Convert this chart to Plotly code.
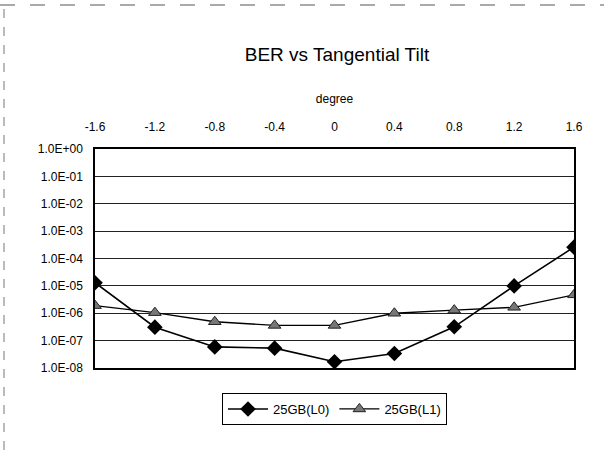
import plotly.graph_objects as go

degrees = [-1.6, -1.2, -0.8, -0.4, 0.0, 0.4, 0.8, 1.2, 1.6]
ber_l0 = [1.3e-5, 3.1e-7, 5.9e-8, 5.3e-8, 1.7e-8, 3.4e-8, 3.2e-7, 1.0e-5, 2.6e-4]
ber_l1 = [1.9e-6, 1.05e-6, 4.9e-7, 3.6e-7, 3.6e-7, 1.0e-6, 1.3e-6, 1.65e-6, 4.7e-6]
x_ticks = [-1.6, -1.2, -0.8, -0.4, 0, 0.4, 0.8, 1.2, 1.6]
x_labels = ["-1.6", "-1.2", "-0.8", "-0.4", "0", "0.4", "0.8", "1.2", "1.6"]
y_ticks = [1e0, 1e-1, 1e-2, 1e-3, 1e-4, 1e-5, 1e-6, 1e-7, 1e-8]
y_labels = ["1.0E+00", "1.0E-01", "1.0E-02", "1.0E-03", "1.0E-04",
            "1.0E-05", "1.0E-06", "1.0E-07", "1.0E-08"]

L, R, T, B = 95, 30, 149, 82
PW, PH = 604 - L - R, 450 - T - B

fig = go.Figure()
fig.add_trace(go.Scatter(
    x=degrees, y=ber_l0, name="25GB(L0)", mode="lines+markers",
    line=dict(color="black", width=1.6),
    marker=dict(symbol="diamond", size=12, color="black"),
))
fig.add_trace(go.Scatter(
    x=degrees, y=ber_l1, name="25GB(L1)", mode="lines+markers",
    line=dict(color="black", width=1.3),
    marker=dict(symbol="triangle-up", size=11, color="#777777",
                line=dict(color="#222222", width=1)),
))

fig.update_layout(
    width=604, height=450,
    paper_bgcolor="white", plot_bgcolor="white",
    margin=dict(l=L, r=R, t=T, b=B, autoexpand=False),
    font=dict(family="Arial, Liberation Sans, sans-serif", color="black", size=12),
    title=dict(text="BER vs Tangential Tilt", x=(337 - L) / PW, xref="paper",
               xanchor="center", y=1 - 54 / 450, yanchor="middle",
               font=dict(size=19, color="black")),
    xaxis=dict(side="top", range=[-1.6, 1.6], tickvals=x_ticks, ticktext=x_labels,
               showgrid=False, zeroline=False, showline=True, linecolor="black",
               linewidth=1.5, mirror=True, ticks="", tickfont=dict(size=12),
               automargin=False, ticklabelstandoff=11,
               title=dict(text="degree", font=dict(size=12), standoff=14)),
    yaxis=dict(type="log", range=[-8, 0], tickvals=y_ticks, ticktext=y_labels,
               showgrid=True, gridcolor="#222222", gridwidth=1,
               zeroline=False, showline=True, linecolor="black", linewidth=1.5,
               mirror=True, ticks="", tickfont=dict(size=12), automargin=False,
               ticklabelstandoff=8),
    legend=dict(orientation="h", x=0.5, xanchor="center",
                y=(368 - 393) / PH, yanchor="top",
                bordercolor="black", borderwidth=1, font=dict(size=13),
                bgcolor="white", itemwidth=40),
    showlegend=True,
)

fig.add_shape(type="line", xref="paper", yref="paper",
              x0=-L / PW, x1=1 + R / PW, y0=1 + (T - 5) / PH, y1=1 + (T - 5) / PH,
              line=dict(color="#555555", width=1, dash="longdash"))
fig.add_shape(type="line", xref="paper", yref="paper",
              x0=(4 - L) / PW, x1=(4 - L) / PW, y0=-B / PH, y1=1 + (T - 5) / PH,
              line=dict(color="#777777", width=1, dash="dash"))

fig.write_html("out.html",
               config={"displayModeBar": False},
               post_script="document.body.style.margin='0';")
